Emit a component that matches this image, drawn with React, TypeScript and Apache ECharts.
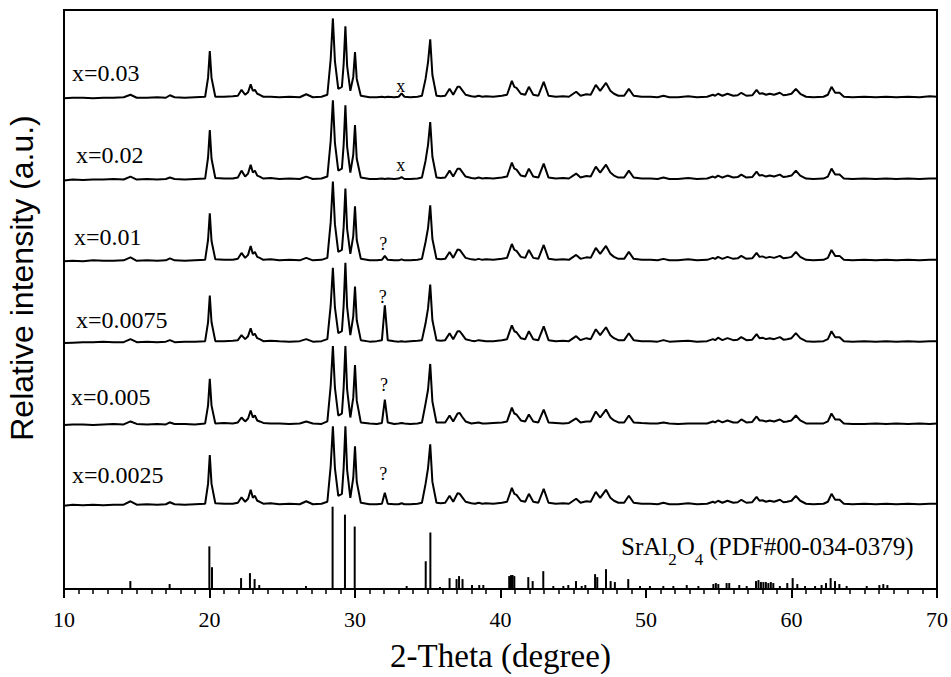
import React, { useEffect, useRef } from "react";
import * as echarts from "echarts";

// 2θ positions (degree) of the trace vertices, shared by all samples
const TWO_THETA = [
  10.0, 10.6, 11.3, 12.0, 12.7, 13.4, 14.1, 14.57, 15.0, 15.7,
  16.4, 17.0, 17.28, 17.6, 18.3, 19.0, 19.7, 19.9, 20.02, 20.14,
  20.4, 21.0, 21.6, 21.95, 22.2, 22.45, 22.65, 22.83, 22.98, 23.12,
  23.28, 23.45, 23.7, 24.2, 24.8, 25.5, 26.2, 26.65, 27.1, 27.7,
  28.1, 28.33, 28.48, 28.62, 28.85, 29.1, 29.22, 29.34, 29.46, 29.68,
  29.88, 30.0, 30.12, 30.4, 31.0, 31.5, 31.85, 32.05, 32.25, 32.7,
  33.0, 33.2, 33.4, 33.8, 34.3, 34.6, 34.85, 35.02, 35.17, 35.32,
  35.6, 35.9, 36.2, 36.5, 36.75, 37.05, 37.2, 37.35, 37.6, 38.0,
  38.25, 38.5, 38.75, 39.0, 39.5, 40.1, 40.45, 40.78, 40.95, 41.1,
  41.4, 41.7, 41.95, 42.25, 42.6, 42.97, 43.3, 43.8, 44.3, 44.7,
  45.2, 45.5, 45.9, 46.2, 46.55, 46.85, 47.25, 47.55, 47.8, 48.1,
  48.5, 48.82, 49.15, 49.7, 50.3, 50.8, 51.2, 51.6, 52.2, 52.9,
  53.5, 54.2, 54.6, 54.75, 54.95, 55.25, 55.6, 56.0, 56.3, 56.55,
  56.9, 57.3, 57.6, 57.8, 58.0, 58.25, 58.5, 58.8, 59.2, 59.45,
  59.7, 60.0, 60.3, 60.6, 61.0, 61.5, 62.2, 62.5, 62.75, 63.0,
  63.3, 63.6, 64.2, 65.0, 65.8, 66.5, 67.2, 68.0, 68.8, 69.5,
  70.0,
];

// Relative intensities (a.u.) above each trace's own baseline
const I_0025 = [
  0, 1, 0.5, 1, 0.5, 1, 1, 4.5, 1, 1.5,
  1, 1.5, 3.5, 1.5, 1, 1.5, 2, 22, 51, 22,
  2.5, 2, 2, 3, 8.5, 4, 7, 16, 8, 10,
  5, 4, 2, 2.5, 1.5, 2, 1.5, 4.5, 1.5, 2,
  4, 40, 80, 38, 10, 12, 38, 80, 36, 8,
  28, 60, 24, 3, 1.5, 1.5, 2, 13, 2, 1.5,
  1.5, 2.5, 1.5, 1.5, 2, 3, 22, 38, 62, 24,
  3, 2.5, 3, 10, 4, 12.5, 12, 9, 4, 2.5,
  2, 3, 2, 2.5, 2, 3, 4, 18, 12, 11,
  5, 4, 12, 4, 3, 17, 3, 2, 2.5, 2,
  7, 3, 4.5, 4, 14, 8, 16, 8, 5, 3,
  3, 10, 3, 2, 2, 1.5, 3, 1.5, 1.5, 2.5,
  1.5, 2, 4, 3, 5, 3, 5, 3, 3.5, 6,
  3, 3.5, 9, 5, 5.5, 4, 5, 4, 6, 3.5,
  4, 5, 10, 5, 2, 1.5, 2, 4, 12, 6,
  6, 2, 1.5, 2, 1.5, 2, 1.5, 2, 1.5, 2,
  2,
];
const I_005 = [
  0.5, 1, 1, 0.5, 1, 1.5, 1, 4, 1.5, 1,
  1.5, 1, 3, 1.5, 1.5, 1, 2, 20, 47, 20,
  2, 2.5, 2, 3, 8, 4, 7, 15, 8, 10,
  5, 4, 2.5, 2, 2, 1.5, 2, 4, 2, 1.5,
  4, 40, 80, 38, 10, 12, 38, 80, 36, 8,
  28, 61, 25, 3, 2, 1.5, 2.5, 26, 3, 1.5,
  2, 2.5, 2, 1.5, 2, 3, 22, 36, 62, 24,
  3, 3, 3, 10, 4, 12, 12.5, 9, 4, 2,
  2.5, 3, 2, 2, 2.5, 3, 4, 18, 12, 11,
  5, 4, 11, 4, 3, 16, 3, 2.5, 2, 2.5,
  7, 3, 4, 4, 14, 8, 16, 8, 5, 3,
  3, 10, 3, 2.5, 2, 2, 3, 2, 1.5, 2,
  2, 2, 4, 3, 5, 3, 5, 3, 3, 6,
  3, 3.5, 9, 5, 5, 4, 5, 4, 6, 3.5,
  4, 5, 10, 5, 2, 2, 2, 4, 12, 6,
  6, 2, 1.5, 1.5, 2, 1.5, 2, 1.5, 2, 1.5,
  2,
];
const I_0075 = [
  0, 0.5, 1, 1, 1.5, 1, 1, 4, 1, 1.5,
  1, 1.5, 3, 1, 1.5, 1.5, 2, 21, 48, 21,
  2, 2, 2.5, 3, 8, 4, 7, 15, 8, 9.5,
  5, 4, 2, 2.5, 2, 1.5, 2, 4, 1.5, 2,
  4, 38, 76, 36, 10, 12, 38, 81, 36, 8,
  27, 57, 23, 3, 1.5, 2, 3, 38, 3, 2,
  1.5, 2, 1.5, 2, 2.5, 3, 20, 35, 59, 23,
  3, 2.5, 3, 10, 4, 12, 12, 9, 4, 2.5,
  2, 3, 2.5, 2, 2, 3, 4, 18, 12, 11,
  5, 4, 12, 4, 3, 17, 3, 2, 2.5, 2,
  7, 3, 5, 4, 14, 8, 16, 8, 5, 3,
  3, 10, 3, 2, 2, 1.5, 3, 1.5, 2, 2.5,
  1.5, 2, 4, 3, 5.5, 3, 5, 3, 3.5, 6,
  3, 3.5, 9, 5, 5.5, 4, 5, 4, 6, 3.5,
  4, 5, 10, 5, 2, 1.5, 2, 4, 12, 6,
  6, 2, 1.5, 2, 1.5, 2, 1.5, 2, 1.5, 2,
  2,
];
const I_01 = [
  0.5, 1, 0.5, 1.5, 1, 1, 1.5, 4.5, 1, 1.5,
  1, 1.5, 3.5, 1.5, 1, 1.5, 2, 22, 49, 21,
  2.5, 2, 2, 3, 9, 4, 7, 16, 8, 10,
  5, 4, 2, 2.5, 1.5, 2, 1.5, 4, 1.5, 2,
  4, 40, 81, 38, 10, 12, 35, 74, 33, 8,
  26, 56, 22, 3, 1.5, 1.5, 2, 6, 2, 1.5,
  1.5, 2.5, 1.5, 1.5, 2, 3, 20, 34, 57, 23,
  3, 2.5, 3, 10, 4, 12.5, 12, 9, 4, 2.5,
  2, 3, 2, 2.5, 2, 3, 4, 18, 12, 11,
  5, 4, 12, 4, 3, 17, 3, 2, 2.5, 2,
  7, 3, 4.5, 4, 14, 8, 16, 8, 5, 3,
  3, 10, 3, 2, 2, 1.5, 3, 1.5, 1.5, 2.5,
  1.5, 2, 4, 3, 5, 3, 5, 3, 3.5, 6,
  3, 3.5, 9, 5, 5.5, 4, 5, 4, 6, 3.5,
  4, 5, 10, 5, 2, 1.5, 2, 4, 12, 6,
  6, 2, 1.5, 2, 1.5, 2, 1.5, 2, 1.5, 2,
  2,
];
const I_02 = [
  0, 1, 0.5, 1, 1, 1.5, 1, 4, 1, 1.5,
  1, 1.5, 3, 1.5, 1, 1.5, 2, 23, 51, 22,
  2.5, 2, 2, 3, 10, 4, 7, 16, 8, 10,
  5, 4, 2, 2.5, 1.5, 2, 1.5, 4, 1.5, 2,
  4, 40, 81, 38, 10, 12, 36, 76, 34, 8,
  26, 56, 22, 3, 1.5, 1.5, 2, 1.5, 2, 1.5,
  2, 3.5, 1.5, 1.5, 2, 3, 20, 36, 59, 24,
  3, 2.5, 3, 10, 4, 12, 12, 9, 4, 2.5,
  2, 3, 2, 2.5, 2, 3, 4, 18, 12, 11,
  5, 4, 12, 4, 3, 17, 3, 2, 2.5, 2,
  7, 3, 4.5, 4, 14, 8, 16, 8, 5, 3,
  3, 10, 3, 2, 2, 1.5, 3, 1.5, 1.5, 2.5,
  1.5, 2, 4, 3, 5, 3, 5, 3, 3.5, 6,
  3, 3.5, 9, 5, 5.5, 4, 5, 4, 6, 3.5,
  4, 5, 10, 5, 2, 1.5, 2, 4, 12, 6,
  6, 2, 1.5, 2, 1.5, 2, 1.5, 2, 1.5, 2,
  2,
];
const I_03 = [
  0.5, 1, 1, 0.5, 1, 1, 1.5, 4, 1, 1,
  1.5, 1, 3.5, 1.5, 1, 1.5, 2, 21, 48, 21,
  2, 2, 2.5, 3, 9, 4, 6.5, 14.5, 8, 9,
  5, 4, 2, 2, 1.5, 2, 1.5, 4.5, 1.5, 2,
  4, 40, 81, 38, 10, 12, 35, 73, 33, 8,
  22, 47, 20, 3, 1.5, 1.5, 2, 1.5, 2, 1.5,
  2, 5.5, 2, 1.5, 2, 3, 20, 37, 60, 24,
  3, 2.5, 3, 10, 4, 12, 12, 9, 4, 2.5,
  2, 3, 2, 2.5, 2, 3, 4, 18, 12, 11,
  5, 4, 12, 4, 3, 17, 3, 2, 2.5, 2,
  7, 3, 4.5, 4, 14, 8, 16, 8, 5, 3,
  3, 10, 3, 2, 2, 1.5, 3, 1.5, 1.5, 2.5,
  1.5, 2, 4, 3, 5, 3, 5, 3, 3.5, 6,
  3, 3.5, 9, 5, 5.5, 4, 5, 4, 6, 3.5,
  4, 5, 10, 5, 2, 1.5, 2, 4, 12, 6,
  6, 2, 1.5, 2, 1.5, 2, 1.5, 2, 1.5, 2.5,
  2,
];

const SAMPLE_LABELS = ["x=0.0025", "x=0.005", "x=0.0075", "x=0.01", "x=0.02", "x=0.03"];
const SAMPLE_DATA = [I_0025, I_005, I_0075, I_01, I_02, I_03];
const SAMPLE_OFFSETS = [84, 165, 248, 330, 412, 494.5];

// SrAl2O4 reference pattern (PDF#00-034-0379)
const REF_POS = [
  14.56, 17.26, 19.99, 20.17, 22.17, 22.78, 23.1, 23.42, 26.63, 28.46,
  29.31, 29.98, 33.55, 34.86, 35.18, 35.84, 36.5, 36.98, 37.15, 37.39,
  38.04, 38.54, 38.82, 40.6, 40.72, 40.83, 40.95, 41.91, 42.21, 42.94,
  43.63, 44.32, 44.66, 45.19, 45.58, 45.83, 46.5, 46.65, 47.25, 47.57,
  47.86, 48.78, 49.59, 50.27, 51.19, 51.88, 52.8, 53.6, 54.63, 54.8,
  54.97, 55.54, 55.72, 56.41, 56.92, 57.56, 57.73, 57.9, 58.07, 58.24,
  58.41, 58.58, 58.75, 59.2, 59.71, 60.08, 60.4, 60.93, 61.62, 62.07,
  62.37, 62.69, 62.99, 63.29, 63.79, 65.17, 66.04, 66.31, 66.59,
];
const REF_INT = [
  8, 5, 43, 22, 11, 16, 10, 4, 3, 83,
  75, 63, 3, 28, 57, 2, 11, 10, 13, 10,
  4, 4, 4, 13, 14, 14, 13, 12, 8, 18,
  3, 3, 4, 8, 3, 4, 15, 12, 20, 8,
  7, 10, 3, 3, 3, 3, 4, 3, 5, 6,
  5, 6, 6, 4, 3, 8, 9, 7, 7, 7,
  6, 7, 6, 3, 6, 11, 5, 3, 3, 4,
  6, 11, 8, 5, 3, 3, 4, 5, 4,
];

// Peak markers: [2θ, y, symbol]
const MARKS: [number, number, string][] = [
  [33.15, 507, "x"],
  [33.15, 428, "x"],
  [31.95, 348, "?"],
  [31.9, 295, "?"],
  [32.0, 206, "?"],
  [31.95, 116, "?"],
];

const X_TICKS = { min: 10, max: 70, interval: 10 };

const SERIF = '"Liberation Serif", "Times New Roman", serif';
const SANS = '"Liberation Sans", Arial, sans-serif';

function measure(text: string, font: string): number {
  const c = document.createElement("canvas").getContext("2d");
  if (!c) return text.length * 10;
  c.font = font;
  return c.measureText(text).width;
}

export default function App() {
  const ref = useRef<HTMLDivElement>(null);

  useEffect(() => {
    if (!ref.current) return;
    const chart = echarts.init(ref.current, undefined, { renderer: "svg" });

    const traceSeries = SAMPLE_DATA.map((arr, k) => ({
      type: "line",
      name: SAMPLE_LABELS[k],
      data: TWO_THETA.map((t, i) => [t, arr[i] + SAMPLE_OFFSETS[k]]),
      showSymbol: false,
      symbol: "none",
      smooth: false,
      lineStyle: { color: "#000", width: 2 },
      silent: true,
      z: 3,
    }));

    const labelMid = [475, 397, 320, 237, 155, 73];
    const labelLefts = [72, 71, 76, 74, 76, 72];

    // SrAl2O4 formula pieces with subscripts
    const pieces: [string, boolean][] = [
      ["SrAl", false],
      ["2", true],
      ["O", false],
      ["4", true],
      [" (PDF#00-034-0379)", false],
    ];
    let cursor = 621;
    const formula = pieces.map(([t, sub]) => {
      const font = sub ? `17px "Liberation Serif"` : `25px "Liberation Serif"`;
      const el = {
        type: "text",
        x: cursor,
        y: sub ? 559.5 : 546.5,
        style: {
          text: t,
          font: sub ? `17px ${SERIF}` : `25px ${SERIF}`,
          fill: "#000",
          verticalAlign: "middle",
          align: "left",
        },
        silent: true,
      };
      cursor += measure(t, font);
      return el;
    });

    const staticGraphics: any[] = [
      {
        type: "text",
        x: 22,
        y: 278,
        rotation: Math.PI / 2,
        style: {
          text: "Relative intensity (a.u.)",
          font: `32px ${SANS}`,
          fill: "#000",
          align: "center",
          verticalAlign: "middle",
        },
        silent: true,
      },
      ...SAMPLE_LABELS.map((t, k) => ({
        type: "text",
        x: labelLefts[k],
        y: labelMid[k],
        style: {
          text: t,
          font: `24px ${SERIF}`,
          fill: "#000",
          verticalAlign: "middle",
        },
        silent: true,
      })),
      ...formula,
    ];

    chart.setOption({
      animation: false,
      backgroundColor: "#fff",
      grid: {
        left: 64,
        right: 14,
        top: 10,
        bottom: 83,
        show: true,
        borderColor: "#000",
        borderWidth: 2,
        backgroundColor: "transparent",
      },
      xAxis: {
        type: "value",
        min: X_TICKS.min,
        max: X_TICKS.max,
        interval: X_TICKS.interval,
        name: "2-Theta (degree)",
        nameLocation: "middle",
        nameGap: 50,
        nameTextStyle: { fontFamily: SERIF, fontSize: 33, color: "#000" },
        axisLine: { show: true, lineStyle: { color: "#000", width: 2 } },
        axisTick: { show: true, inside: false, length: 9, lineStyle: { color: "#000", width: 2 } },
        minorTick: { show: true, splitNumber: 10, length: 5, lineStyle: { color: "#000", width: 1.5 } },
        axisLabel: { fontFamily: SERIF, fontSize: 22, color: "#000", margin: 19 },
        splitLine: { show: false },
      },
      yAxis: {
        type: "value",
        min: 0,
        max: 584,
        axisLine: { show: true, lineStyle: { color: "#000", width: 2 } },
        axisTick: { show: false },
        axisLabel: { show: false },
        splitLine: { show: false },
      },
      series: [
        ...traceSeries,
        {
          type: "bar",
          name: "SrAl2O4",
          data: REF_POS.map((p, i) => [p, REF_INT[i]]),
          barWidth: 2,
          itemStyle: { color: "#000" },
          silent: true,
          z: 3,
        },
      ],
      graphic: staticGraphics,
    });

    // Peak markers positioned through the chart's own scales
    const markGraphics = MARKS.map(([t, v, s]) => {
      const [px, py] = chart.convertToPixel({ gridIndex: 0 }, [t, v]) as number[];
      return {
        type: "text",
        x: px,
        y: py,
        style: {
          text: s,
          font: `18px ${SERIF}`,
          fill: "#000",
          align: "center",
          verticalAlign: "middle",
        },
        silent: true,
        z: 10,
      };
    });
    chart.setOption({ graphic: [...staticGraphics, ...markGraphics] });

    return () => chart.dispose();
  }, []);

  return (
    <div
      ref={ref}
      style={{ position: "fixed", left: 0, top: 0, width: 951, height: 677 }}
    />
  );
}
